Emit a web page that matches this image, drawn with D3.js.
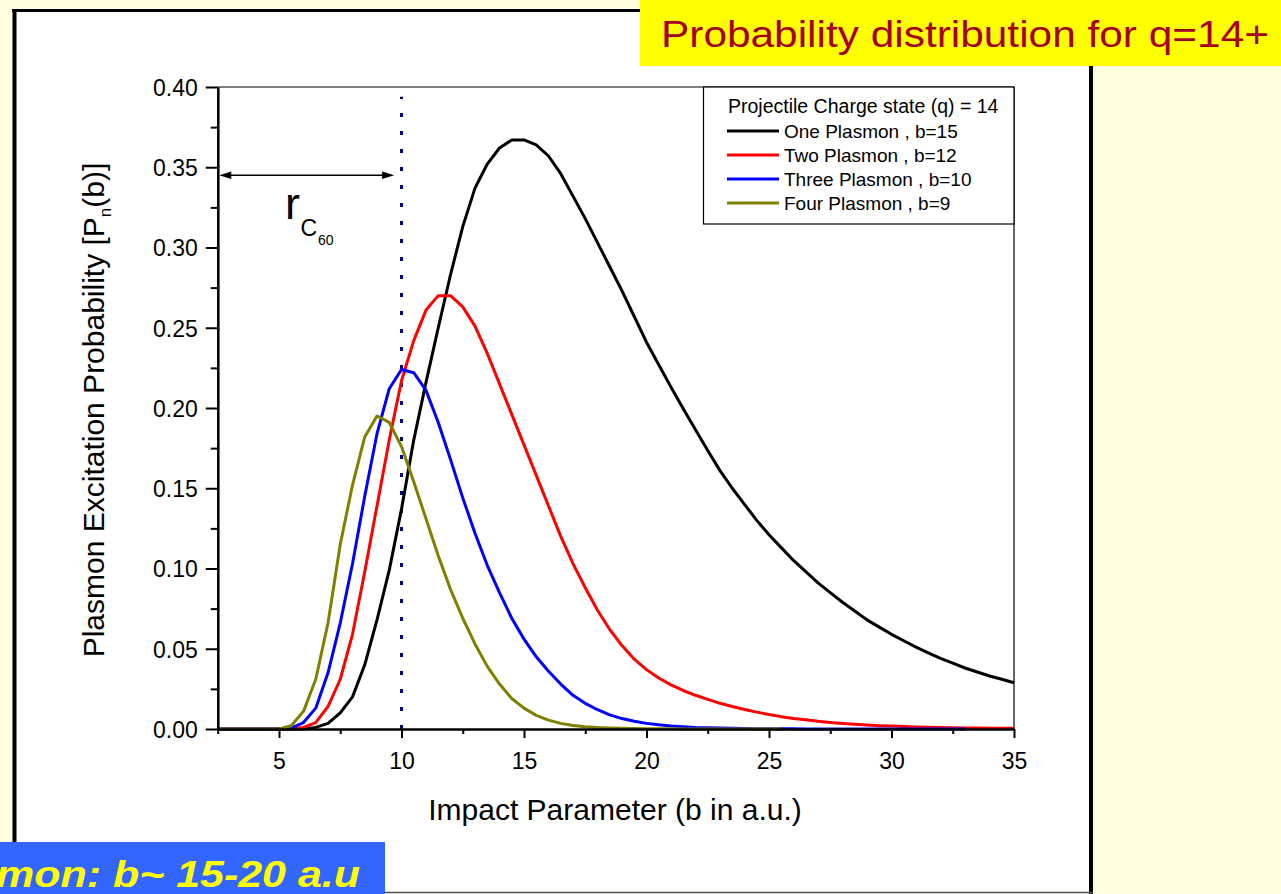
<!DOCTYPE html>
<html>
<head>
<meta charset="utf-8">
<script src="https://cdn.jsdelivr.net/npm/d3@7"></script>
<style>
  html, body { margin: 0; padding: 0; background: #ffffe0; }
  svg { display: block; font-family: "Liberation Sans", Arial, Helvetica, sans-serif; }
</style>
</head>
<body>
<svg id="chart" width="1281" height="894"></svg>
<script>
// Impact parameter grid (a.u.)
const impactB = [2.5, 3, 3.5, 4, 4.5, 5, 5.5, 6, 6.5, 7, 7.5, 8, 8.5, 9, 9.5, 10,
  10.5, 11, 11.5, 12, 12.5, 13, 13.5, 14, 14.5, 15, 15.5, 16, 16.5, 17, 17.5, 18,
  18.5, 19, 19.5, 20, 20.5, 21, 21.5, 22, 22.5, 23, 23.5, 24, 24.5, 25, 25.5, 26,
  26.5, 27, 27.5, 28, 28.5, 29, 29.5, 30, 30.5, 31, 31.5, 32, 32.5, 33, 33.5, 34, 34.5, 35];

// Plasmon excitation probabilities P_n(b)
const onePlasmon = [0, 0, 0, 0, 0, 0, 0, 0, 0.001, 0.0035, 0.010, 0.020, 0.040, 0.068, 0.099, 0.137,
  0.180, 0.216, 0.250, 0.283, 0.313, 0.337, 0.352, 0.362, 0.367, 0.367, 0.364, 0.357, 0.346, 0.332, 0.318, 0.303,
  0.288, 0.273, 0.257, 0.241, 0.227, 0.213, 0.1995, 0.1865, 0.1735, 0.161, 0.150, 0.140, 0.130, 0.121, 0.113, 0.105,
  0.098, 0.091, 0.085, 0.079, 0.0735, 0.068, 0.0635, 0.059, 0.055, 0.051, 0.0475, 0.044, 0.041, 0.038, 0.0355, 0.033, 0.031, 0.0288];
const twoPlasmon = [0, 0, 0, 0, 0, 0, 0, 0.001, 0.004, 0.014, 0.031, 0.059, 0.098, 0.139, 0.180, 0.217,
  0.242, 0.261, 0.270, 0.270, 0.263, 0.251, 0.234, 0.215, 0.196, 0.177, 0.158, 0.139, 0.120, 0.103, 0.088, 0.074,
  0.062, 0.052, 0.0435, 0.037, 0.0318, 0.0275, 0.024, 0.021, 0.0185, 0.016, 0.014, 0.0122, 0.0105, 0.009, 0.0077, 0.0066,
  0.0057, 0.0048, 0.0041, 0.0035, 0.003, 0.0025, 0.0021, 0.0018, 0.0015, 0.0013, 0.0011, 0.0010, 0.0008, 0.0007, 0.0006, 0.0005, 0.00045, 0.0004];
const threePlasmon = [0, 0, 0, 0, 0, 0, 0.0005, 0.004, 0.013, 0.035, 0.066, 0.103, 0.145, 0.184, 0.212, 0.224,
  0.222, 0.211, 0.191, 0.168, 0.144, 0.122, 0.102, 0.085, 0.069, 0.056, 0.045, 0.036, 0.028, 0.021, 0.016, 0.012,
  0.0088, 0.0065, 0.0048, 0.0035, 0.0026, 0.0019, 0.0014, 0.0010, 0.0008, 0.0006, 0.0004, 0.0003, 0.0002, 0.0002, 0.0001, 0.0001,
  0, 0, 0, 0, 0, 0, 0, 0, 0, 0, 0, 0, 0, 0];
const fourPlasmon = [0, 0, 0, 0, 0, 0, 0.002, 0.011, 0.031, 0.066, 0.115, 0.152, 0.182, 0.195, 0.191, 0.176,
  0.154, 0.131, 0.108, 0.087, 0.069, 0.053, 0.039, 0.028, 0.019, 0.013, 0.0085, 0.0055, 0.0035, 0.0022, 0.0014, 0.0009,
  0.0006, 0.0004, 0.0003, 0.0002, 0.0001, 0.0001, 0, 0, 0, 0, 0, 0, 0, 0, 0];

const seriesNames = ["One Plasmon , b=15", "Two Plasmon , b=12", "Three Plasmon , b=10", "Four Plasmon , b=9"];
const seriesValues = [onePlasmon, twoPlasmon, threePlasmon, fourPlasmon];
const seriesColors = ["#000000", "#ff0000", "#0000ff", "#808000"];

const xMajorTicks = [5, 10, 15, 20, 25, 30, 35];
const xMinorTicks = [2.5, 7.5, 12.5, 17.5, 22.5, 27.5, 32.5];
const yMajorTicks = [0, 0.05, 0.10, 0.15, 0.20, 0.25, 0.30, 0.35, 0.40];
const yMinorTicks = [0.025, 0.075, 0.125, 0.175, 0.225, 0.275, 0.325, 0.375];

const rC60 = 10;            // C60 radius marker (a.u.)
const rC60Top = 0.394;      // top of the dotted marker
const arrowLevel = 0.345;   // height of the radius arrow
const arrowSpan = [2.5, 9.7];

const chartTitle = "Probability distribution for q=14+";
const legendTitle = "Projectile Charge state (q) = 14";
const xTitle = "Impact Parameter (b in a.u.)";
const bannerText = "mon: b~ 15-20 a.u";

const svg = d3.select("#chart");

// page frame
svg.append("rect").attr("x", 0).attr("y", 0).attr("width", 1281).attr("height", 894).attr("fill", "#ffffe0");
svg.append("rect").attr("x", 14).attr("y", 10).attr("width", 1077).attr("height", 883).attr("fill", "#ffffff");
svg.append("line").attr("x1", 12).attr("x2", 1093).attr("y1", 10.5).attr("y2", 10.5).attr("stroke", "#000").attr("stroke-width", 3);
svg.append("line").attr("x1", 14.5).attr("x2", 14.5).attr("y1", 9).attr("y2", 894).attr("stroke", "#000").attr("stroke-width", 4);
svg.append("line").attr("x1", 1091).attr("x2", 1091).attr("y1", 9).attr("y2", 894).attr("stroke", "#000").attr("stroke-width", 4);
svg.append("line").attr("x1", 14).attr("x2", 1093).attr("y1", 892.5).attr("y2", 892.5).attr("stroke", "#555").attr("stroke-width", 1.5);

// plot area
const L = 217.75, R = 1014, T = 87, B = 729;
const x = d3.scaleLinear().domain([2.5, 35]).range([L, R]);
const y = d3.scaleLinear().domain([0, 0.4]).range([B, T]);

// frame top/right thin lines
svg.append("path").attr("d", `M${L},${T}H${R}V${B}`).attr("fill", "none").attr("stroke", "#000").attr("stroke-width", 1.2);

// C60 radius dotted marker
svg.append("line")
  .attr("x1", x(rC60)).attr("x2", x(rC60))
  .attr("y1", y(0)).attr("y2", y(rC60Top))
  .attr("stroke", "#000080").attr("stroke-width", 3)
  .attr("stroke-dasharray", "4,14");

// curves
const line = d3.line().x(d => x(d[0])).y(d => y(d[1]));
seriesValues.forEach((vals, i) => {
  const pts = vals.map((v, k) => [impactB[k], v]);
  svg.append("path").datum(pts)
    .attr("d", line)
    .attr("fill", "none")
    .attr("stroke", seriesColors[i])
    .attr("stroke-width", 3)
    .attr("stroke-linejoin", "round");
});

// axes
const fontTick = 23;
const xAxis = svg.append("g").attr("transform", `translate(0,${B})`)
  .call(d3.axisBottom(x).tickValues(xMajorTicks).tickSize(9).tickSizeOuter(0).tickPadding(15).tickFormat(d3.format("d")));
const xMinor = svg.append("g").attr("transform", `translate(0,${B})`)
  .call(d3.axisBottom(x).tickValues(xMinorTicks).tickSize(5).tickSizeOuter(0).tickFormat(""));
const yAxis = svg.append("g").attr("transform", `translate(${L},0)`)
  .call(d3.axisLeft(y).tickValues(yMajorTicks).tickSize(12).tickSizeOuter(0).tickPadding(8).tickFormat(d3.format(".2f")));
const yMinor = svg.append("g").attr("transform", `translate(${L},0)`)
  .call(d3.axisLeft(y).tickValues(yMinorTicks).tickSize(7).tickSizeOuter(0).tickFormat(""));

[xAxis, xMinor, yAxis, yMinor].forEach(g => {
  g.select(".domain").attr("stroke", "#000").attr("stroke-width", 2.2);
  g.selectAll(".tick line").attr("stroke", "#000").attr("stroke-width", 2);
  g.selectAll(".tick text").attr("fill", "#000").attr("font-size", fontTick)
    .attr("font-family", "'Liberation Sans', Arial, sans-serif");
});
yAxis.selectAll(".tick text").attr("dy", "0.36em");

// axis titles
svg.append("text").attr("x", 615).attr("y", 820).attr("text-anchor", "middle")
  .attr("font-size", 30).attr("fill", "#000").text(xTitle);

const yt = svg.append("text").attr("transform", "translate(104,410) rotate(-90)")
  .attr("text-anchor", "middle").attr("font-size", 30).attr("fill", "#000");
yt.append("tspan").text("Plasmon Excitation Probability [P");
yt.append("tspan").attr("font-size", 17).attr("dy", 7).text("n");
yt.append("tspan").attr("dy", -7).text("(b)]");

// radius arrow
const ay = y(arrowLevel), ax0 = x(arrowSpan[0]) + 1.5, ax1 = x(arrowSpan[1]);
svg.append("line").attr("x1", ax0 + 6).attr("x2", ax1 - 6).attr("y1", ay).attr("y2", ay)
  .attr("stroke", "#000").attr("stroke-width", 1.5);
svg.append("path").attr("d", `M${ax0},${ay}L${ax0 + 12},${ay - 3.8}L${ax0 + 12},${ay + 3.8}Z`).attr("fill", "#000");
svg.append("path").attr("d", `M${ax1},${ay}L${ax1 - 12},${ay - 3.8}L${ax1 - 12},${ay + 3.8}Z`).attr("fill", "#000");

// r_C60 label
svg.append("text").attr("x", 285).attr("y", 219).attr("font-size", 45).attr("fill", "#000").text("r");
svg.append("text").attr("x", 300.5).attr("y", 236).attr("font-size", 23).attr("fill", "#000").text("C");
svg.append("text").attr("x", 318).attr("y", 244.5).attr("font-size", 14).attr("fill", "#000").text("60");

// legend
const lg = svg.append("g");
lg.append("rect").attr("x", 703.5).attr("y", T).attr("width", R - 703.5).attr("height", 137)
  .attr("fill", "#fff").attr("stroke", "#000").attr("stroke-width", 1.2);
lg.append("text").attr("x", 728).attr("y", 113).attr("font-size", 19.5).attr("fill", "#000").text(legendTitle);
seriesNames.forEach((name, i) => {
  const ly = 131 + 24 * i;
  lg.append("line").attr("x1", 727).attr("x2", 779).attr("y1", ly).attr("y2", ly)
    .attr("stroke", seriesColors[i]).attr("stroke-width", 3);
  lg.append("text").attr("x", 784).attr("y", ly + 7).attr("font-size", 19).attr("fill", "#000").text(name);
});

// title band
svg.append("rect").attr("x", 640).attr("y", 0).attr("width", 641).attr("height", 66).attr("fill", "#ffff00");
svg.append("text").attr("x", 661).attr("y", 47).attr("font-size", 37).attr("fill", "#a50021")
  .attr("textLength", 608).attr("lengthAdjust", "spacingAndGlyphs").text(chartTitle);

// bottom banner
svg.append("rect").attr("x", 0).attr("y", 842).attr("width", 385).attr("height", 52).attr("fill", "#3366ff");
svg.append("text").attr("x", -4).attr("y", 887).attr("font-size", 37).attr("font-weight", "bold")
  .attr("font-style", "italic").attr("fill", "#ffff00")
  .attr("textLength", 364).attr("lengthAdjust", "spacingAndGlyphs").text(bannerText);
</script>
</body>
</html>
